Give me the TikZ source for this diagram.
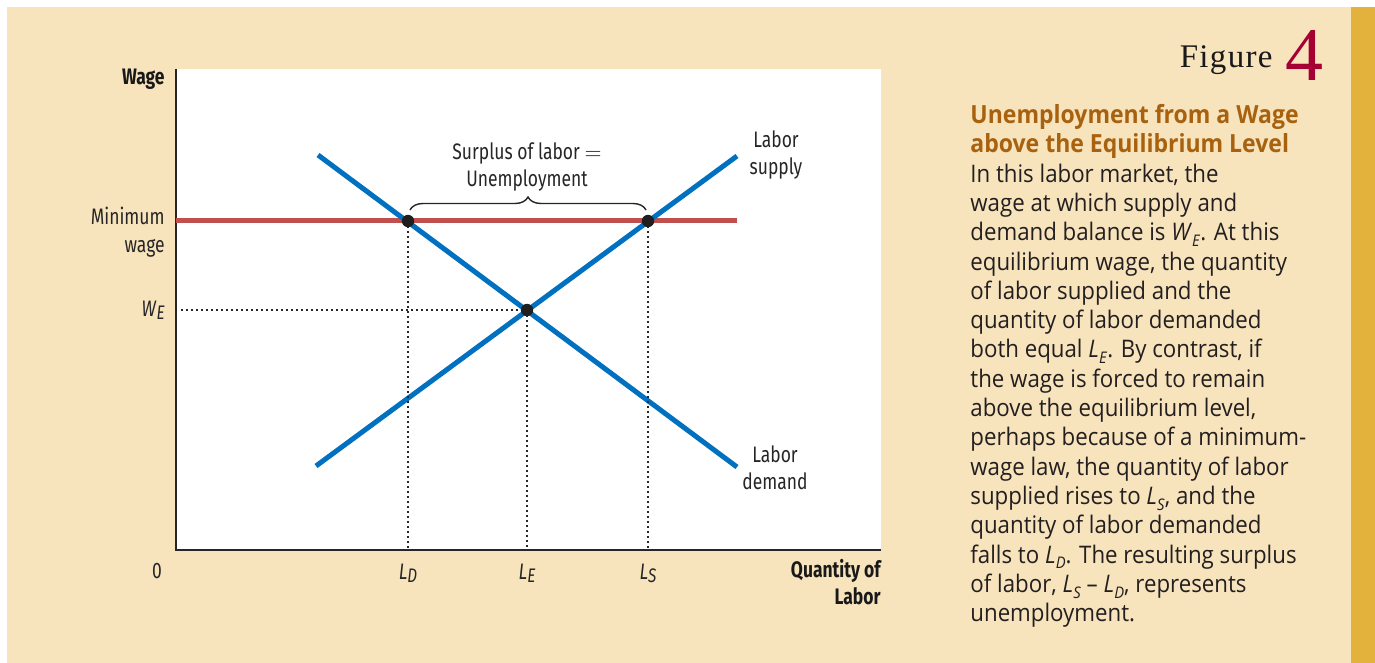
\documentclass[tikz,border=0pt]{standalone}
\usepackage{fontspec}
\usetikzlibrary{decorations.pathreplacing}
\newfontfamily\bodyf[FakeStretch=0.92]{Open Sans}
\newfontfamily\condf[FakeStretch=0.78]{Fira Sans}
\newfontfamily\figf{Liberation Serif}
\definecolor{panel}{HTML}{F7E3BC}
\definecolor{goldbar}{HTML}{E3B23C}
\definecolor{curveblue}{HTML}{0070C0}
\definecolor{minred}{HTML}{C0504D}
\definecolor{titlec}{HTML}{A8620F}
\definecolor{figred}{HTML}{A50034}
\definecolor{bodytext}{HTML}{231F20}
% body subscript
\newcommand{\sbs}[2]{\textit{#1}\raisebox{-0.45ex}{\fontsize{8}{8}\selectfont\textit{#2}}}
% plot subscript
\newcommand{\psb}[2]{\textit{#1}\raisebox{-0.3ex}{\fontsize{9.8}{9.8}\selectfont\textit{#2}}}
\tikzset{
  axisline/.style={line width=0.8pt, black!85},
  curve/.style={line width=2.5pt, curveblue},
  minline/.style={line width=2.5pt, minred},
  guide/.style={line width=0.9pt, black!85, dash pattern=on 0.9pt off 1.6pt},
  dotnode/.style={circle, fill=black!88, inner sep=0pt, minimum size=6.2pt},
  lab/.style={font=\condf\fontsize{11.2}{13.5}\selectfont, text=black!85, inner sep=0pt},
  blab/.style={font=\condf\bfseries\fontsize{11.2}{13.5}\selectfont, text=black!90, inner sep=0pt},
  bracestyle/.style={decorate, decoration={brace, amplitude=6.5pt}, line width=0.7pt, black!85}
}
\begin{document}
\begin{tikzpicture}[x=0.5pt,y=-0.5pt]
\useasboundingbox (0,0) rectangle (1375,663);
\fill[white] (0,0) rectangle (1375,663);
\fill[panel] (7,7) rectangle (1351,663);
\fill[goldbar] (1351,7) rectangle (1375,663);
\fill[white] (176,69) rectangle (881,550);

% axes
\coordinate (O) at (176,550);
\coordinate (ytop) at (176,69);
\coordinate (xend) at (881,550);
\draw[axisline] (ytop) -- (O) -- (xend);

% curves
\coordinate (m1) at (176,221);
\coordinate (m2) at (737,221);
\coordinate (d1) at (318,155);
\coordinate (d2) at (737,467);
\coordinate (s1) at (316,466);
\coordinate (s2) at (737,156);
\draw[minline] (m1) -- (m2);
\draw[curve] (d1) -- (d2);
\draw[curve] (s1) -- (s2);

% points
\coordinate (A) at (408,221);
\coordinate (E) at (527,310);
\coordinate (B) at (648,221);
\coordinate (wstart) at (181,310);
\draw[guide] (A) -- (A |- O);
\draw[guide] (E) -- (E |- O);
\draw[guide] (B) -- (B |- O);
\draw[guide] (wstart) -- (E);
\node[dotnode] (Adot) at (A) {};
\node[dotnode] (Edot) at (E) {};
\node[dotnode] (Bdot) at (B) {};

% brace
\coordinate (br1) at (410,210);
\coordinate (br2) at (646,210);
\draw[bracestyle] (br1) -- (br2);

% labels (base anchor = baseline of last line)
\node[blab, anchor=base east] (wagelab) at (165,85) {Wage};
\node[lab, anchor=base east, align=right] (minlab) at (165,252) {Minimum\\wage};
\node[lab, anchor=base east] (welab) at (165,316) {\psb{W}{E}};
\node[lab, anchor=base] (zero) at (157,578) {0};
\node[lab, anchor=base] (ldlab) at (A |- 0,579) {\psb{L}{D}};
\node[lab, anchor=base] (lelab) at (E |- 0,579) {\psb{L}{E}};
\node[lab, anchor=base] (lslab) at (B |- 0,579) {\psb{L}{S}};
\node[blab, anchor=base east, align=right] (qlab) at (881,604) {Quantity of\\Labor};
\node[lab, anchor=base, align=center] (suplab) at (776,175) {Labor\\supply};
\node[lab, anchor=base, align=center] (demlab) at (775,489) {Labor\\demand};
\node[lab, anchor=base, align=center] (surlab) at (527,187) {Surplus of labor $=$\\Unemployment};

% right panel
\node[anchor=base east, inner sep=0pt, text=black!90, font=\figf\fontsize{16.5}{16.5}\selectfont\addfontfeature{LetterSpace=4}] (figw) at (1273,68) {Figure};
\node[anchor=base west, inner sep=0pt, text=figred, font=\figf\fontsize{38}{38}\selectfont] (fign) at (1285,81) {4};

\node[anchor=north west, inner sep=0pt, align=left, text=bodytext,
      font=\bodyf\fontsize{12.1}{14.65}\selectfont] (body) at (970,104) {%
\textcolor{titlec}{\bfseries\fontsize{12.5}{14.65}\selectfont Unemployment from a Wage}\\
\textcolor{titlec}{\bfseries\fontsize{12.5}{14.65}\selectfont above the Equilibrium Level}\\
In this labor market, the\\
wage at which supply and\\
demand balance is \sbs{W}{E}. At this\\
equilibrium wage, the quantity\\
of labor supplied and the\\
quantity of labor demanded\\
both equal \sbs{L}{E}. By contrast, if\\
the wage is forced to remain\\
above the equilibrium level,\\
perhaps because of a minimum-\\
wage law, the quantity of labor\\
supplied rises to \sbs{L}{S}, and the\\
quantity of labor demanded\\
falls to \sbs{L}{D}. The resulting surplus\\
of labor, \sbs{L}{S} – \sbs{L}{D}, represents\\
unemployment.};
\end{tikzpicture}
\end{document}
